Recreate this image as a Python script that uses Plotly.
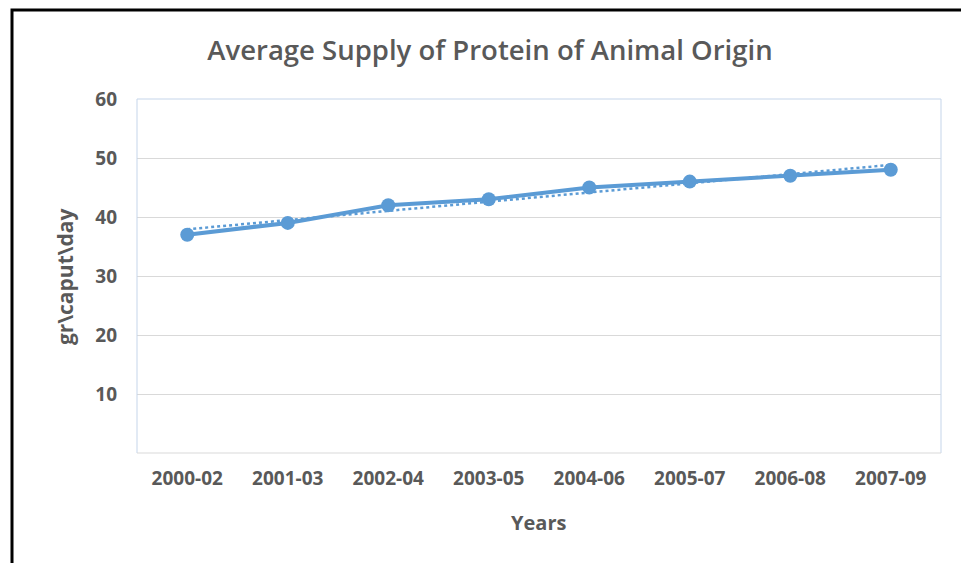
import numpy as np
import plotly.graph_objects as go

categories = ["2000-02", "2001-03", "2002-04", "2003-05", "2004-06", "2005-07", "2006-08", "2007-09"]
values = [37, 39, 42, 43, 45, 46, 47, 48]
y_ticks = [10, 20, 30, 40, 50, 60]

# linear trendline (as in the spreadsheet's linear trend)
xi = np.arange(len(values))
slope, intercept = np.polyfit(xi, values, 1)
trend = list(slope * xi + intercept)

W, H = 961, 563
L, R, T, B = 137, 941, 99, 453
pw, ph = R - L, B - T

def px(x):
    return (x - L) / pw

def py(y):
    return (B - y) / ph

blue = "#5b9bd5"
gray = "#595959"
font_family = "Open Sans, Lato, sans-serif"

fig = go.Figure()
fig.add_trace(go.Scatter(
    x=categories, y=values, mode="lines+markers",
    line=dict(color=blue, width=4),
    marker=dict(color=blue, size=14),
    showlegend=False, hoverinfo="skip",
))
fig.add_trace(go.Scatter(
    x=categories, y=trend, mode="lines",
    line=dict(color=blue, width=2.5, dash="dot"),
    showlegend=False, hoverinfo="skip",
))

shapes = [
    dict(type="line", xref="paper", yref="paper", x0=0, x1=0, y0=0, y1=1,
         line=dict(color="#c5d5ea", width=1)),
    dict(type="line", xref="paper", yref="paper", x0=1, x1=1, y0=0, y1=1,
         line=dict(color="#c5d5ea", width=1)),
    dict(type="line", xref="paper", yref="paper", x0=0, x1=1, y0=1, y1=1,
         line=dict(color="#c5d5ea", width=1)),
    dict(type="line", xref="paper", yref="paper", x0=0, x1=1, y0=0, y1=0,
         line=dict(color="#d9d9d9", width=1)),
    dict(type="rect", xref="paper", yref="paper",
         x0=px(12), x1=px(990), y0=py(600), y1=py(10),
         line=dict(color="black", width=3), fillcolor="rgba(0,0,0,0)", layer="above"),
]

annotations = [
    dict(text="Years", xref="paper", yref="paper", x=px(538), y=py(522),
         xanchor="center", yanchor="middle", showarrow=False,
         font=dict(family=font_family, size=20, color=gray, weight="bold")),
    dict(text="gr\\caput\\day", xref="paper", yref="paper", x=px(65), y=py(277),
         xanchor="center", yanchor="middle", showarrow=False, textangle=-90,
         font=dict(family=font_family, size=21, color=gray, weight="bold")),
]

fig.update_layout(
    width=W, height=H,
    margin=dict(l=L, r=W - R, t=T, b=H - B, pad=0),
    paper_bgcolor="white", plot_bgcolor="white",
    title=dict(text="Average Supply of Protein of Animal Origin",
               x=490 / W, xanchor="center", y=1 - 50 / H, yanchor="middle",
               font=dict(family=font_family, size=27.5, color=gray, weight=600)),
    xaxis=dict(
        type="category", range=[-0.5, len(categories) - 0.5],
        showgrid=False, zeroline=False, showline=False, ticks="",
        ticklabelstandoff=12,
        tickfont=dict(family=font_family, size=19, color=gray, weight="bold"),
    ),
    yaxis=dict(
        range=[0, 60], tickvals=y_ticks, ticktext=[str(v) for v in y_ticks],
        showgrid=True, gridcolor="#d9d9d9", gridwidth=1, zeroline=False, showline=False,
        ticks="", ticklabelstandoff=19,
        tickfont=dict(family=font_family, size=19, color=gray, weight="bold"),
    ),
    shapes=shapes,
    annotations=annotations,
)

fig.write_html("out.html", config={"displayModeBar": False},
               post_script="document.body.style.margin='0';")
